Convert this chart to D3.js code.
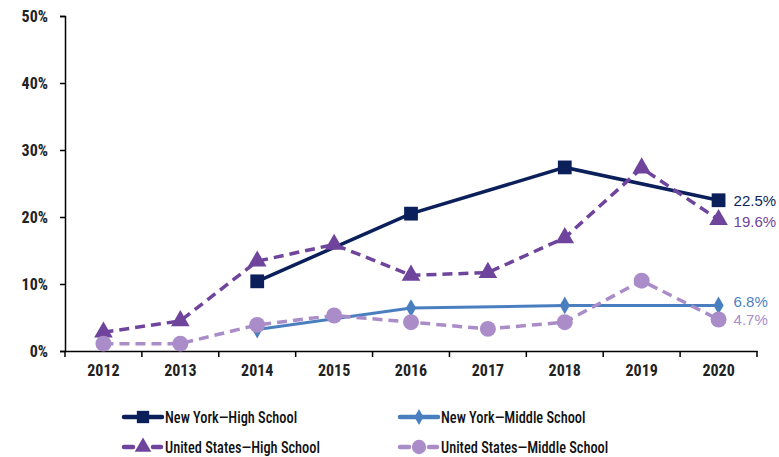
<!DOCTYPE html>
<html>
<head>
<meta charset="utf-8">
<script src="https://cdn.jsdelivr.net/npm/d3@7"></script>
<style>
  body { margin: 0; background: #fff; }
  text { font-family: "Roboto Condensed", Roboto, sans-serif; font-stretch: condensed; }
</style>
</head>
<body>
<div id="chart"></div>
<script>
// data
const years = ["2012", "2013", "2014", "2015", "2016", "2017", "2018", "2019", "2020"];
const yTicks = [0, 10, 20, 30, 40, 50];

const nyHigh = [
  { year: "2014", value: 10.4 },
  { year: "2016", value: 20.5 },
  { year: "2018", value: 27.4 },
  { year: "2020", value: 22.5 }
];
const nyMiddle = [
  { year: "2014", value: 3.2 },
  { year: "2016", value: 6.4 },
  { year: "2018", value: 6.8 },
  { year: "2020", value: 6.8 }
];
const usHigh = [
  { year: "2012", value: 2.8 },
  { year: "2013", value: 4.5 },
  { year: "2014", value: 13.4 },
  { year: "2015", value: 15.9 },
  { year: "2016", value: 11.3 },
  { year: "2017", value: 11.7 },
  { year: "2018", value: 16.9 },
  { year: "2019", value: 27.3 },
  { year: "2020", value: 19.6 }
];
const usMiddle = [
  { year: "2012", value: 1.1 },
  { year: "2013", value: 1.1 },
  { year: "2014", value: 3.9 },
  { year: "2015", value: 5.3 },
  { year: "2016", value: 4.3 },
  { year: "2017", value: 3.3 },
  { year: "2018", value: 4.3 },
  { year: "2019", value: 10.5 },
  { year: "2020", value: 4.7 }
];

const series = [
  { name: "New York\u2014High School", data: nyHigh, color: "#0b1f5b", dash: null, symbol: d3.symbolSquare, size: 190, width: 3.5, label: "22.5%", labelDy: 0 },
  { name: "New York\u2014Middle School", data: nyMiddle, color: "#4a7fbf", dash: null, symbol: d3.symbolDiamond, size: 90, width: 3, label: "6.8%", labelDy: -4 },
  { name: "United States\u2014High School", data: usHigh, color: "#6f449c", dash: "10,6", symbol: d3.symbolTriangle, size: 150, width: 3.5, label: "19.6%", labelDy: 2 },
  { name: "United States\u2014Middle School", data: usMiddle, color: "#a98cc8", dash: "10,6", symbol: d3.symbolCircle, size: 200, width: 3.5, label: "4.7%", labelDy: 0 }
];

const width = 779, height = 457;
const plot = { left: 65, right: 757, top: 16, bottom: 351 };

const svg = d3.select("#chart").append("svg")
  .attr("width", width)
  .attr("height", height);

const x = d3.scaleBand()
  .domain(years)
  .range([plot.left, plot.right]);

const y = d3.scaleLinear()
  .domain([0, 50])
  .range([plot.bottom, plot.top]);

// y axis
const yAxis = svg.append("g")
  .attr("transform", "translate(" + plot.left + ",0)")
  .call(d3.axisLeft(y).tickValues(yTicks).tickSize(5).tickFormat(d => d + "%"));
yAxis.select(".domain").attr("stroke", "#000").attr("stroke-width", 1.5);
yAxis.selectAll(".tick line").attr("stroke", "#000").attr("stroke-width", 1.5);
yAxis.selectAll(".tick text")
  .attr("x", -17)
  .attr("fill", "#222")
  .style("font-size", "16px")
  .style("font-weight", "bold");

// x axis, ticks between categories
const xAxis = svg.append("g")
  .attr("transform", "translate(0," + plot.bottom + ")")
  .call(d3.axisBottom(x).tickSize(0).tickSizeOuter(0));
xAxis.select(".domain").attr("stroke", "#000").attr("stroke-width", 1.5);
xAxis.selectAll(".tick text")
  .attr("y", 14)
  .attr("fill", "#222")
  .style("font-size", "16px")
  .style("font-weight", "bold");
const bounds = years.map(d => x(d)).concat([x(years[years.length - 1]) + x.bandwidth()]);
xAxis.selectAll("line.sep")
  .data(bounds)
  .enter()
  .append("line")
  .attr("class", "sep")
  .attr("x1", d => d).attr("x2", d => d)
  .attr("y1", 0).attr("y2", 6)
  .attr("stroke", "#000")
  .attr("stroke-width", 1.5);

const cx = d => x(d.year) + x.bandwidth() / 2;
const line = d3.line()
  .x(cx)
  .y(d => y(d.value));

series.forEach(s => {
  const g = svg.append("g");
  g.append("path")
    .datum(s.data)
    .attr("fill", "none")
    .attr("stroke", s.color)
    .attr("stroke-width", s.width)
    .attr("stroke-dasharray", s.dash)
    .attr("d", line);
  g.selectAll("path.mark")
    .data(s.data)
    .enter()
    .append("path")
    .attr("class", "mark")
    .attr("d", d3.symbol().type(s.symbol).size(s.size))
    .attr("transform", d => "translate(" + cx(d) + "," + y(d.value) + ")")
    .attr("fill", s.color);

  const last = s.data[s.data.length - 1];
  g.append("text")
    .attr("x", cx(last) + 15)
    .attr("y", y(last.value) + s.labelDy)
    .attr("dy", "0.35em")
    .attr("fill", s.color)
    .style("font-family", "'Liberation Sans', Arial, sans-serif")
    .style("font-stretch", "normal")
    .style("font-size", "15px")
    .text(s.label);
});

// legend
const legendPos = [
  { x: 124, y: 417 }, { x: 400, y: 417 },
  { x: 124, y: 447 }, { x: 400, y: 447 }
];
series.forEach((s, i) => {
  const p = legendPos[i];
  const g = svg.append("g").attr("transform", "translate(" + p.x + "," + p.y + ")");
  if (s.dash) {
    g.append("line").attr("x1", 0).attr("x2", 9).attr("y1", 0).attr("y2", 0)
      .attr("stroke", s.color).attr("stroke-width", 4.5).attr("stroke-linecap", "round");
    g.append("line").attr("x1", 29).attr("x2", 37).attr("y1", 0).attr("y2", 0)
      .attr("stroke", s.color).attr("stroke-width", 4.5).attr("stroke-linecap", "round");
  } else {
    g.append("line").attr("x1", 0).attr("x2", 38).attr("y1", 0).attr("y2", 0)
      .attr("stroke", s.color).attr("stroke-width", 4.5).attr("stroke-linecap", "round");
  }
  g.append("path")
    .attr("d", d3.symbol().type(s.symbol).size(s.size * 0.8))
    .attr("transform", "translate(19,0)")
    .attr("fill", s.color);
  g.append("text")
    .attr("transform", "translate(41,0) scale(0.87,1)")
    .attr("dy", "0.35em")
    .attr("fill", "#111")
    .style("font-size", "16.5px")
    .style("font-weight", "500")
    .text(s.name);
});
</script>
</body>
</html>
